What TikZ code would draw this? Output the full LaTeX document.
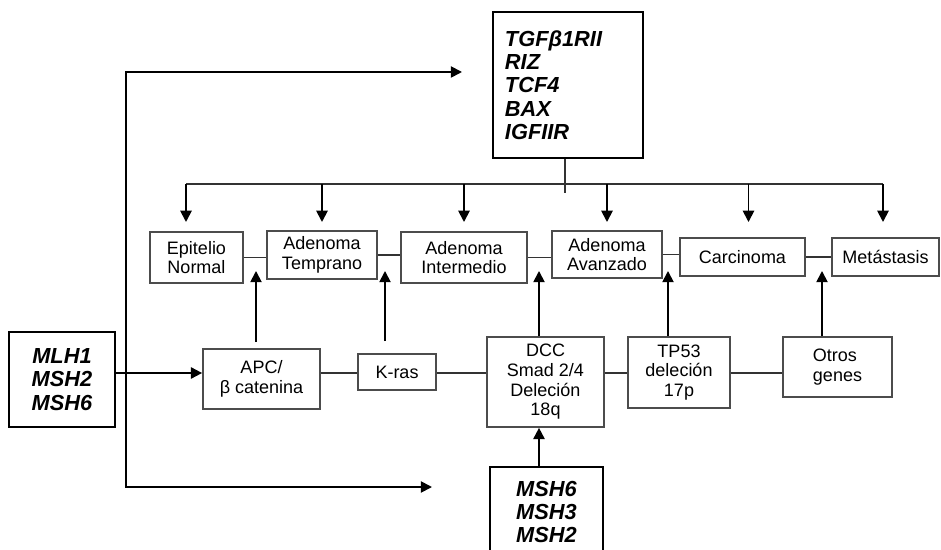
\documentclass[tikz,border=0pt]{standalone}
\usepackage{fontspec}
\setmainfont{Liberation Sans}
\usetikzlibrary{arrows.meta,positioning}

\begin{document}
\begin{tikzpicture}[
    x=0.025cm, y=-0.025cm,
    stagebox/.style={draw=black!70, line width=1.2pt, align=center, inner sep=1pt, font=\fontsize{12.8}{14}\selectfont},
    genebox/.style={draw, line width=1.2pt, inner sep=1pt, font=\fontsize{15.5}{16.6}\selectfont\bfseries\itshape},
    link/.style={line width=1.3pt, black!80},
    arrow/.style={-{Triangle[length=8pt,width=8pt]}, line width=1.3pt}
  ]
  \useasboundingbox (0,0) rectangle (941,550);

  % Top gene box
  \node[genebox, minimum width=3.75cm, minimum height=3.65cm, text width=3.15cm, align=left] (tgf) at (568,85)
    {TGFβ1RII\\RIZ\\TCF4\\BAX\\IGFIIR};

  % Stages of the sequence
  \node[stagebox, minimum width=2.325cm, minimum height=1.275cm] (epi) at (196.5,257.5) {Epitelio\\Normal};
  \node[stagebox, minimum width=2.75cm, minimum height=1.2cm] (temp) at (322,255) {Adenoma\\Temprano};
  \node[stagebox, minimum width=3.15cm, minimum height=1.275cm] (inter) at (464,257.5) {Adenoma\\Intermedio};
  \node[stagebox, minimum width=2.75cm, minimum height=1.175cm] (avan) at (607,254.5) {Adenoma\\Avanzado};
  \node[stagebox, minimum width=3.125cm, minimum height=0.95cm] (carc) at (742.5,257) {Carcinoma};
  \node[stagebox, minimum width=2.675cm, minimum height=0.95cm] (meta) at (885.5,257) {Metástasis};

  % Genetic events
  \node[genebox, align=center, minimum width=2.65cm, minimum height=2.375cm] (mlh) at (62,379.5) {MLH1\\MSH2\\MSH6};
  \node[stagebox, minimum width=2.925cm, minimum height=1.5cm] (apc) at (261.5,379) {APC/\\β catenina};
  \node[stagebox, minimum width=1.95cm, minimum height=0.9cm] (kras) at (397,372) {K-ras};
  \node[stagebox, minimum width=2.925cm, minimum height=2.25cm] (dcc) at (545.5,382) {DCC\\Smad 2/4\\Deleción\\18q};
  \node[stagebox, minimum width=2.55cm, minimum height=1.775cm] (tp53) at (679,372.5) {TP53\\deleción\\17p};
  \node[stagebox, align=left, minimum width=2.725cm, minimum height=1.5cm] (otros) at (837.5,367) {Otros\\genes};
  \node[genebox, align=center, minimum width=2.825cm, minimum height=2.25cm] (msh) at (546.5,512) {MSH6\\MSH3\\MSH2};

  % Helper coordinates
  \coordinate (stem) at (565,193);
  \coordinate (dl) at (186,184);
  \coordinate (dr) at (883,184);
  \coordinate (tipline) at (0,222);
  \coordinate (g1) at (256,271);
  \coordinate (g2) at (385,271);
  \coordinate (g3) at (539,271);
  \coordinate (g4) at (668,271);
  \coordinate (g5) at (822,271);
  \coordinate (busrow) at (0,373);
  \coordinate (bus) at (126,373);
  \coordinate (toTGF) at (462,72);
  \coordinate (toMSH) at (432,487);

  % Distribution from the top box
  \draw[link] (tgf.south -| stem) -- (stem);
  \draw[link] (dl) -- (dr);
  \draw[arrow] (dl) -- (tipline -| dl);
  \draw[arrow] (dl -| temp) -- (tipline -| temp);
  \draw[arrow] (dl -| inter) -- (tipline -| inter);
  \draw[arrow] (dl -| avan) -- (tipline -| avan);
  \draw[arrow] ([shift={(6,0)}]dl -| carc) -- ([shift={(6,0)}]tipline -| carc);
  \draw[arrow] (dr) -- (tipline -| dr);

  % Links between stages
  \draw[link] (epi.east) -- (epi.east -| temp.west);
  \draw[link] (temp.east) -- (temp.east -| inter.west);
  \draw[link] (inter.east) -- (inter.east -| avan.west);
  \draw[link] (avan.east) -- (avan.east -| carc.west);
  \draw[link] (carc.east) -- (carc.east -| meta.west);

  % Events acting on the transitions
  \draw[arrow] (apc.north -| g1) ++(0,-6) -- (g1);
  \draw[arrow] (kras.north -| g2) ++(0,-12) -- (g2);
  \draw[arrow] (dcc.north -| g3) -- (g3);
  \draw[arrow] (tp53.north -| g4) -- (g4);
  \draw[arrow] (otros.north -| g5) -- (g5);
  \draw[arrow] (msh.north -| g3) -- (dcc.south -| g3);

  % Links between events
  \draw[arrow] (mlh.east |- busrow) -- (apc.west |- busrow);
  \draw[link] (apc.east |- busrow) -- (kras.west |- busrow);
  \draw[link] (kras.east |- busrow) -- (dcc.west |- busrow);
  \draw[link] (dcc.east |- busrow) -- (tp53.west |- busrow);
  \draw[link] (tp53.east |- busrow) -- (otros.west |- busrow);

  % Mismatch repair branch
  \draw[arrow] (bus) |- (toTGF);
  \draw[arrow] (bus) |- (toMSH);

\end{tikzpicture}
\end{document}
